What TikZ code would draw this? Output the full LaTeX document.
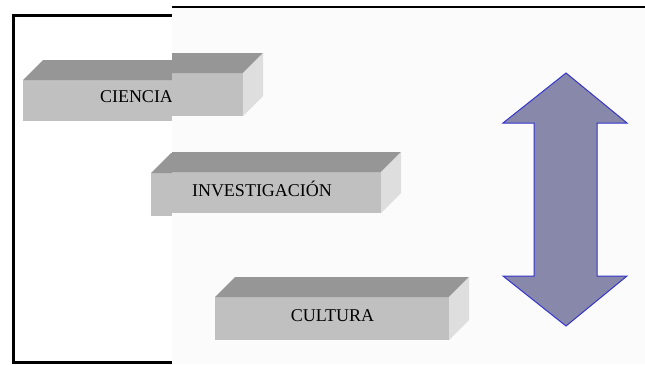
\documentclass[tikz,border=0pt]{standalone}
\usepackage{fontspec}
\setmainfont{Liberation Serif}
\usepackage{xcolor}
\usepackage{tikz}
\definecolor{FrontGray}{HTML}{C0C0C0}
\definecolor{TopGray}{HTML}{969696}
\definecolor{SideGray}{HTML}{DEDEDE}
\definecolor{PaneWhite}{HTML}{FBFBFB}
\definecolor{ArrowFill}{HTML}{8888AA}
\definecolor{ArrowLine}{HTML}{3535CC}
% slab: left x, right x, top y, bottom y (front face)
\newcommand{\slab}[4]{%
  \fill[FrontGray] (#1,#3) rectangle (#2,#4);
  \fill[TopGray] (#1,#3) -- (#1+20,#3-20) -- (#2+20,#3-20) -- (#2,#3) -- cycle;
  \fill[SideGray] (#2,#3) -- (#2+20,#3-20) -- (#2+20,#4-20) -- (#2,#4) -- cycle;}
\tikzset{label text/.style={font=\fontsize{18}{20}\selectfont, text=black, inner sep=0pt}}

\begin{document}
\begin{tikzpicture}[x=1pt, y=-1pt]
  \useasboundingbox (0,0) rectangle (645,364);
  \fill[white] (0,0) rectangle (645,364);

  % Back sheet
  \begin{scope}
    \clip (0,0) rectangle (172,364);
    \slab{23}{243}{80}{121}
    \slab{151}{381}{173}{216}
    \node[label text] (ciencia) at (136.5,97) {CIENCIA};
  \end{scope}
  \draw[line width=3pt] (172,15.5) -- (13.5,15.5) -- (13.5,362) -- (172,362);

  % Front sheet
  \fill[PaneWhite] (172,7) rectangle (645,364);
  \draw[line width=2.5pt] (172,7) -- (645,7);
  \begin{scope}
    \clip (172,0) rectangle (645,364);
    \slab{23}{243}{73}{116}
    \slab{151}{381}{172}{213}
    \slab{215}{449}{297}{340}
    \node[label text] (investigacion) at (262,189) {INVESTIGACIÓN};
    \node[label text] (cultura) at (332.5,316) {CULTURA};
  \end{scope}

  % Double arrow
  \draw[fill=ArrowFill, draw=ArrowLine, line width=1pt]
    (566,73) -- (627,123) -- (597,123) -- (597,276) -- (627,276)
    -- (566,326) -- (503,276) -- (534,276) -- (534,123) -- (503,123) -- cycle;
\end{tikzpicture}
\end{document}
